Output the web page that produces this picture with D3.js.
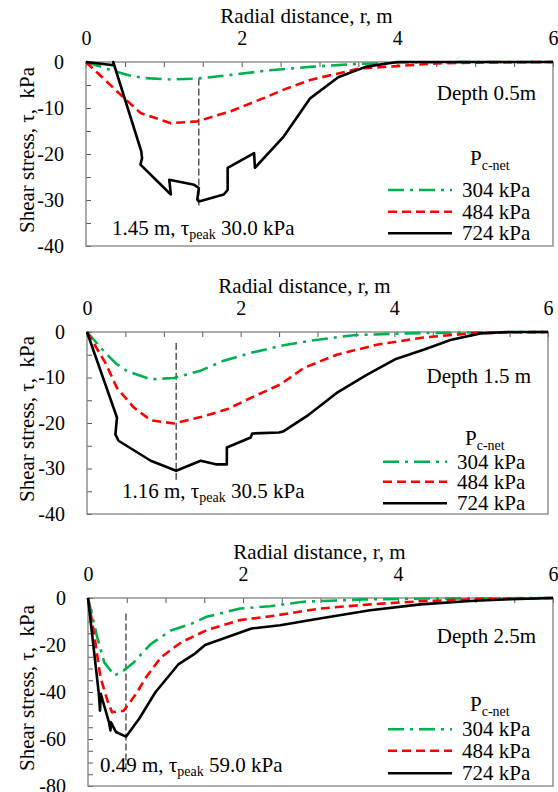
<!DOCTYPE html>
<html lang="en">
  <head>
    <meta charset="UTF-8">
    <title>Shear stress vs radial distance</title>
    <script src="https://d3js.org/d3.v7.min.js"></script>
    <style>
      * { margin: 0; padding: 0; }
      body { background: white; }
      svg { display: block; }
      svg text { font-family: 'Liberation Serif', 'Times New Roman', serif; }
    </style>
  </head>
  <body>
    <script>
      // tick labels
      const xTicks = [0, 2, 4, 6]
      const yTicksShallow = [0, -10, -20, -30, -40]
      const yTicksDeep = [0, -20, -40, -60, -80]

      // legend + panel labels
      const pressures = ['304 kPa', '484 kPa', '724 kPa']
      const depths = ['Depth 0.5m', 'Depth 1.5 m', 'Depth 2.5m']
      const peakR = [1.45, 1.16, 0.49]
      const peakTau = [30.0, 30.5, 59.0]
      const markerTop = [-3.6, -2.4, -6.6]
      const markerBottom = [-31.5, -32.8, -73]

      // depth 0.5 m  [r (m), tau (kPa)]
      const d05_304 = [[0, 0], [0.15, -0.8], [0.36, -2.0], [0.55, -2.9], [0.75, -3.5], [1.09, -3.8], [1.43, -3.6],
        [1.86, -2.8], [2.36, -1.8], [2.92, -1.0], [3.52, -0.4], [4.03, -0.1], [5, 0], [6, 0]]
      const d05_484 = [[0, 0], [0.15, -2.4], [0.40, -6.4], [0.70, -11.1], [1.09, -13.3], [1.43, -12.9], [1.86, -10.7],
        [2.29, -7.8], [2.54, -6.0], [2.88, -3.9], [3.52, -1.4], [3.99, -0.9], [4.5, -0.3], [5.2, -0.1], [6, 0]]
      const d05_724 = [[0, 0], [0.36, -0.7], [0.35, 0], [0.71, -19.4], [0.72, -20.9], [0.70, -22.3], [1.09, -28.8],
        [1.07, -25.6], [1.39, -26.7], [1.45, -27.4], [1.43, -29.9], [1.45, -30.3], [1.77, -28.8], [1.82, -27.8],
        [1.82, -23.0], [2.16, -19.8], [2.17, -23.0], [2.54, -16.2], [2.88, -7.9], [3.24, -3.3], [3.6, -1.0],
        [4.0, 0], [6, 0]]

      // depth 1.5 m
      const d15_304 = [[0, 0], [0.24, -4.6], [0.37, -6.8], [0.52, -8.6], [0.83, -10.4], [1.13, -10.1], [1.48, -8.5],
        [1.78, -6.3], [2.13, -4.6], [2.56, -2.9], [2.95, -1.8], [3.47, -0.7], [4.1, -0.3], [5.0, -0.1], [6, 0]]
      const d15_484 = [[0, 0], [0.24, -6.8], [0.39, -12.3], [0.61, -16.6], [0.83, -19.4], [1.13, -20.1], [1.48, -18.7],
        [1.82, -17.0], [2.13, -14.5], [2.52, -11.5], [2.82, -7.9], [3.25, -5.0], [3.77, -2.8], [4.38, -1.2],
        [5.0, -0.3], [5.5, -0.1], [6, 0]]
      const d15_724 = [[0, 0], [0.39, -18.8], [0.37, -22.5], [0.41, -23.9], [0.83, -28.3], [1.16, -30.5], [1.48, -28.3],
        [1.69, -29.1], [1.82, -29.1], [1.82, -25.4], [2.13, -23.2], [2.15, -22.3], [2.50, -22.1], [2.56, -21.8],
        [2.86, -18.5], [3.25, -13.4], [3.64, -9.4], [4.01, -6.0], [4.38, -3.9], [4.73, -1.75], [5.12, -0.3],
        [5.47, 0], [6, 0]]

      // depth 2.5 m
      const d25_304 = [[0, 0], [0.12, -16.8], [0.21, -27.4], [0.34, -33.0], [0.46, -30.9], [0.59, -27.4], [0.81, -19.6],
        [1.07, -13.8], [1.33, -11.0], [1.53, -8.0], [1.96, -4.5], [2.35, -3.5], [2.78, -1.6], [3.55, -0.6],
        [4.5, -0.2], [6, 0]]
      const d25_484 = [[0, 0], [0.08, -15.4], [0.16, -33.7], [0.25, -43.6], [0.31, -48.6], [0.46, -48.0], [0.62, -40.8],
        [0.75, -33.7], [0.94, -25.3], [1.2, -18.9], [1.53, -13.7], [1.96, -9.4], [2.35, -7.8], [2.99, -4.5],
        [3.64, -2.7], [4.29, -1.4], [4.93, -0.55], [6, 0]]
      const d25_724 = [[0, 0], [0.14, -40.8], [0.155, -47.9], [0.165, -40.8], [0.27, -52.8], [0.29, -56.4], [0.295, -52.8],
        [0.36, -57.0], [0.49, -59.0], [0.66, -51.4], [0.87, -40.1], [1.17, -28.1], [1.37, -23.9], [1.51, -20.0],
        [2.11, -13.0], [2.48, -11.6], [2.99, -8.7], [3.64, -5.2], [4.29, -2.7], [4.93, -1.3], [5.45, -0.55], [6, 0]]

      const colors = ['#00b050', '#ff0000', '#000000']
      const dashes = ['16,6,3,6', '9,5', null]

      const width = 558
      const height = 792
      const fontSize = 21
      const tickFont = 20

      const svg = d3.select('body').append('svg')
                    .attr('width', width)
                    .attr('height', height)

      const panels = [
        { box: { left: 86, right: 553, top: 62, bottom: 246 }, yTicks: yTicksShallow, series: [d05_304, d05_484, d05_724],
          legendRows: [56, 34.3, 12.7], pY: 81, depthY: 38, noteX: 112, noteY: 11, titleShift: -13 },
        { box: { left: 87, right: 548, top: 332, bottom: 514 }, yTicks: yTicksShallow, series: [d15_304, d15_484, d15_724],
          legendRows: [52.3, 32.3, 10.7], pY: 69, depthY: 51, noteX: 122, noteY: 16, titleShift: -13 },
        { box: { left: 88, right: 553, top: 598, bottom: 786 }, yTicks: yTicksDeep, series: [d25_304, d25_484, d25_724],
          legendRows: [56.7, 35.3, 12.7], pY: 75, depthY: 45, noteX: 100, noteY: 14, titleShift: -1 }
      ]

      panels.forEach((p, i) => {
        const box = p.box
        const yMin = p.yTicks[p.yTicks.length - 1]
        const x = d3.scaleLinear().domain([0, 6]).range([box.left, box.right])
        const y = d3.scaleLinear().domain([yMin, 0]).range([box.bottom, box.top])

        const xAxis = d3.axisTop(x)
                        .tickValues(d3.range(0, 6.001, 0.5))
                        .tickFormat(d => xTicks.includes(d) ? d : '')
                        .tickSizeInner(-5)
                        .tickSizeOuter(0)
                        .tickPadding(17)
        const yAxis = d3.axisLeft(y)
                        .tickValues(d3.range(yMin, 0.001, 5))
                        .tickFormat(d => p.yTicks.includes(d) ? d : '')
                        .tickSizeInner(-5)
                        .tickSizeOuter(0)
                        .tickPadding(22)

        const gx = svg.append('g')
           .attr('transform', 'translate(0,' + box.top + ')')
           .call(xAxis)
        const gy = svg.append('g')
           .attr('transform', 'translate(' + box.left + ',0)')
           .call(yAxis)
        ;[gx, gy].forEach(g => {
          g.attr('font-family', 'Liberation Serif').attr('font-size', tickFont)
          g.select('.domain').remove()
          g.selectAll('line').attr('stroke', '#595959')
        })

        svg.append('rect')
           .attr('x', box.left)
           .attr('y', box.top)
           .attr('width', box.right - box.left)
           .attr('height', box.bottom - box.top)
           .attr('fill', 'none')
           .attr('stroke', '#7f7f7f')
           .attr('stroke-width', 1.3)

        svg.append('text')
           .text('Radial distance, r, m')
           .attr('x', (box.left + box.right) / 2 + p.titleShift)
           .attr('y', box.top - 39)
           .attr('text-anchor', 'middle')
           .attr('font-size', fontSize)

        svg.append('text')
           .text('Shear stress, τ,  kPa')
           .attr('xml:space', 'preserve')
           .style('white-space', 'pre')
           .attr('transform', 'translate(34,' + ((box.top + box.bottom) / 2 - 4) + ') rotate(-90)')
           .attr('text-anchor', 'middle')
           .attr('font-size', fontSize)

        // peak marker
        svg.append('line')
           .attr('x1', x(peakR[i])).attr('x2', x(peakR[i]))
           .attr('y1', y(markerTop[i])).attr('y2', y(markerBottom[i]))
           .attr('stroke', '#000')
           .attr('stroke-width', 1)
           .attr('stroke-dasharray', '7,3')

        const line = d3.line().x(d => x(d[0])).y(d => y(d[1]))
        p.series.forEach((s, k) => {
          svg.append('path')
             .datum(s)
             .attr('d', line)
             .attr('fill', 'none')
             .attr('stroke', colors[k])
             .attr('stroke-width', 2.6)
             .attr('stroke-linejoin', 'round')
             .attr('stroke-dasharray', dashes[k])
        })

        svg.append('text')
           .text(depths[i])
           .attr('x', box.right - 17)
           .attr('y', box.top + p.depthY)
           .attr('text-anchor', 'end')
           .attr('font-size', fontSize)

        const note = svg.append('text')
           .attr('x', p.noteX)
           .attr('y', box.bottom - p.noteY)
           .attr('font-size', fontSize)
        note.append('tspan').text(peakR[i].toFixed(2) + ' m, τ')
        note.append('tspan').text('peak').attr('font-size', 14).attr('dy', 4)
        note.append('tspan').text(' ' + peakTau[i].toFixed(1) + ' kPa').attr('dy', -4)

        // legend
        const pc = svg.append('text')
           .attr('x', box.right - 83)
           .attr('y', box.bottom - p.pY)
           .attr('font-size', fontSize)
        pc.append('tspan').text('P')
        pc.append('tspan').text('c-net').attr('font-size', 14).attr('dy', 5)

        pressures.forEach((label, k) => {
          const ly = box.bottom - p.legendRows[k]
          svg.append('line')
             .attr('x1', box.right - 165).attr('x2', box.right - 101)
             .attr('y1', ly).attr('y2', ly)
             .attr('stroke', colors[k])
             .attr('stroke-width', 2.6)
             .attr('stroke-dasharray', dashes[k])
          svg.append('text')
             .text(label)
             .attr('x', box.right - 91)
             .attr('y', ly + 7)
             .attr('font-size', fontSize)
        })
      })
    </script>
  </body>
</html>
